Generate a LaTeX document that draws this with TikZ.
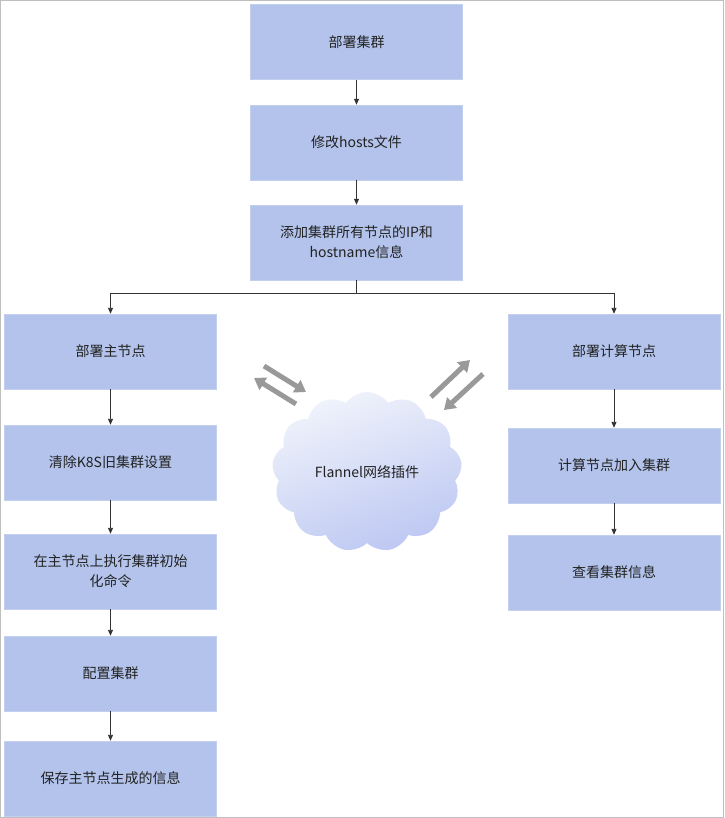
\documentclass[tikz,border=0pt]{standalone}
\usepackage{fontspec}
\setmainfont{Noto Sans CJK SC}
\usetikzlibrary{shapes.symbols,arrows.meta}
\definecolor{boxc}{HTML}{B3C3EB}
\definecolor{txt}{HTML}{222222}
\begin{document}
\begin{tikzpicture}[x=1pt,y=-1pt,
  box/.style={fill=boxc,draw=boxc!80!white,minimum width=212pt,minimum height=75pt,inner sep=0pt,text=txt,font=\fontsize{14}{20}\selectfont,align=center},
  arr/.style={draw=black!80,line width=0.9pt,-{Triangle[length=6pt,width=5pt]}},
  garr/.style={draw=black!40,line width=5pt,-{Triangle[length=11pt,width=14pt]}}]
\useasboundingbox (0,0) rectangle (724,818);
\draw[black!25] (0.5,0.5) rectangle (723.5,817.5);
\node[box] (a) at (356.5,42) {部署集群};
\node[box] (b) at (356.5,142.5) {修改hosts文件};
\node[box] (c) at (356.5,242.5) {添加集群所有节点的IP和\\hostname信息};
\node[box] (l1) at (110.5,351.5) {部署主节点};
\node[box] (l2) at (110.5,462.5) {清除K8S旧集群设置};
\node[box] (l3) at (110.5,571.5) {在主节点上执行集群初始\\化命令};
\node[box] (l4) at (110.5,673.5) {配置集群};
\node[box] (l5) at (110.5,778.5) {保存主节点生成的信息};
\node[box] (r1) at (614,351.5) {部署计算节点};
\node[box] (r2) at (614,465.5) {计算节点加入集群};
\node[box] (r3) at (614,572.5) {查看集群信息};
\draw[arr] (a) -- (b);
\draw[arr] (b) -- (c);
\coordinate (j) at (356.5,293);
\draw[draw=black!80,line width=0.9pt] (c.south) -- (j);
\draw[arr] (j) -| (l1.north);
\draw[arr] (j) -| (r1.north);
\draw[arr] (l1) -- (l2);
\draw[arr] (l2) -- (l3);
\draw[arr] (l3) -- (l4);
\draw[arr] (l4) -- (l5);
\draw[arr] (r1) -- (r2);
\draw[arr] (r2) -- (r3);
\node[cloud,cloud puffs=13,cloud puff arc=110,aspect=1.25,minimum width=190pt,minimum height=160pt,
  draw=none,top color=white!80!boxc,bottom color=boxc!90!blue!70!white,shading angle=20,
  font=\fontsize{14}{18}\selectfont,text=txt] (cl) at (367,472) {Flannel网络插件};
\coordinate (g1) at (264,366); \coordinate (g2) at (306,392);
\coordinate (g3) at (296,404); \coordinate (g4) at (254,378);
\draw[garr] (g1) -- (g2);
\draw[garr] (g3) -- (g4);
\coordinate (h1) at (431,397); \coordinate (h2) at (470,360);
\coordinate (h3) at (483,374); \coordinate (h4) at (444,410);
\draw[garr] (h1) -- (h2);
\draw[garr] (h3) -- (h4);
\end{tikzpicture}
\end{document}
